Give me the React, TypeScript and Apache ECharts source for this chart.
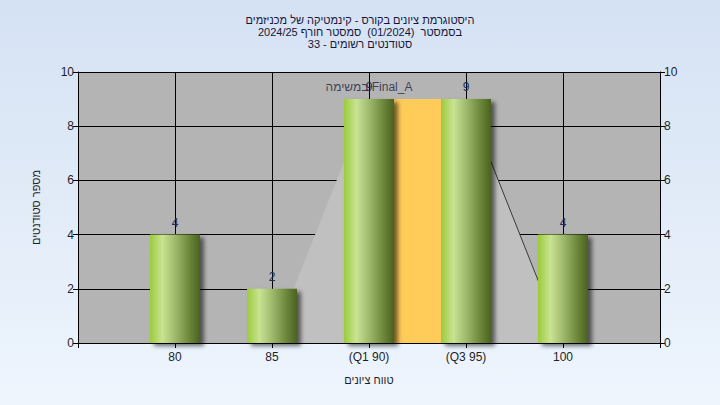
import React, { useEffect, useRef } from "react";
import * as echarts from "echarts";

const titleLines = [
  "היסטוגרמת ציונים בקורס - קינמטיקה של מכניזמים",
  "בסמסטר  (01/2024)  סמסטר חורף 2024/25",
  "סטודנטים רשומים - 33",
];
const scores = [80, 85, 90, 95, 100];
const counts = [4, 2, 9, 9, 4];
const scoreLabels: Record<number, string> = {
  80: "80",
  85: "85",
  90: "(Q1 90)",
  95: "(Q3 95)",
  100: "100",
};
const curveX = [85, 90, 95, 100];
const curveY = [0, 9, 9, 0];
const edgeX = [95, 100];
const edgeY = [9, 0];
const iqrRange = [90, 95];
const iqrTop = 9;
const taskLabel = "במשימה Final_A";
const xAxisName = "טווח ציונים";
const yAxisName = "מספר סטודנטים";

const FONT = "'Liberation Sans', Arial, sans-serif";
const TXT = "#1e1e28";

export default function App() {
  const ref = useRef<HTMLDivElement>(null);
  useEffect(() => {
    if (!ref.current) return;
    const chart = echarts.init(ref.current, null, { renderer: "svg" });
    const barGradient = new echarts.graphic.LinearGradient(0, 0, 1, 0, [
      { offset: 0, color: "#9ccb3b" },
      { offset: 0.25, color: "#c9e393" },
      { offset: 0.5, color: "#9fba6c" },
      { offset: 0.8, color: "#6a8539" },
      { offset: 1, color: "#4a6221" },
    ]);
    const yAxisCommon = {
      type: "value" as const,
      min: 0,
      max: 10,
      interval: 2,
      axisLine: { show: true, lineStyle: { color: "#000", width: 1 } },
      axisTick: { show: true, length: 5, lineStyle: { color: "#000" } },
      axisLabel: { color: TXT, fontSize: 12, fontFamily: FONT, margin: 4 },
    };
    chart.setOption({
      animation: false,
      textStyle: { fontFamily: FONT },
      title: {
        text: titleLines.join("\n"),
        left: "center",
        top: 9,
        textStyle: {
          fontSize: 11,
          lineHeight: 12,
          fontWeight: "normal",
          color: "#15153a",
          fontFamily: FONT,
        },
      },
      grid: {
        left: 78,
        right: 60,
        top: 72,
        bottom: 62,
        show: true,
        backgroundColor: "#b4b4b4",
        borderWidth: 0,
      },
      xAxis: {
        type: "value",
        min: 75,
        max: 105,
        interval: 5,
        name: xAxisName,
        nameLocation: "middle",
        nameGap: 31,
        nameTextStyle: { color: TXT, fontSize: 11, fontFamily: FONT },
        axisLine: { show: true, onZero: false, lineStyle: { color: "#000" } },
        axisTick: { show: true, length: 5, lineStyle: { color: "#000" } },
        axisLabel: {
          color: TXT,
          fontSize: 12,
          fontFamily: FONT,
          margin: 8,
          formatter: (v: number) => scoreLabels[v] ?? "",
        },
        splitLine: { show: true, lineStyle: { color: "#000", width: 1 } },
      },
      yAxis: [
        {
          ...yAxisCommon,
          position: "left",
          name: yAxisName,
          nameLocation: "middle",
          nameGap: 37,
          nameTextStyle: { color: TXT, fontSize: 11, fontFamily: FONT },
          splitLine: { show: true, lineStyle: { color: "#000", width: 1 } },
        },
        {
          ...yAxisCommon,
          position: "right",
          splitLine: { show: false },
        },
      ],
      series: [
        {
          type: "line",
          z: 1,
          data: curveX.map((x, i) => [x, curveY[i]]),
          symbol: "none",
          lineStyle: { width: 0 },
          areaStyle: { color: "#c0c0c0", opacity: 1 },
          silent: true,
        },
        {
          type: "line",
          z: 1.2,
          data: edgeX.map((x, i) => [x, edgeY[i]]),
          symbol: "none",
          lineStyle: { width: 1, color: "#3a3a3a" },
          silent: true,
        },
        {
          type: "bar",
          z: 3,
          barWidth: 50,
          data: scores.map((s, i) => [s, counts[i]]),
          itemStyle: {
            color: barGradient,
            shadowColor: "rgba(0,0,0,0.55)",
            shadowBlur: 4,
            shadowOffsetX: 4,
            shadowOffsetY: 3,
          },
          label: {
            show: true,
            position: "top",
            distance: 6,
            color: "#1b2d55",
            fontSize: 12,
            fontFamily: FONT,
            formatter: (p: any) => String(p.value[1]),
          },
          markArea: {
            z: 1.5,
            silent: true,
            itemStyle: { color: "#ffcc5a", opacity: 1 },
            label: { show: false },
            data: [
              [
                { xAxis: iqrRange[0], yAxis: 0 },
                { xAxis: iqrRange[1], yAxis: iqrTop },
              ],
            ],
          },
        },
        {
          type: "scatter",
          z: 4,
          symbolSize: 0,
          data: [[iqrRange[0], iqrTop]],
          label: {
            show: true,
            position: "top",
            distance: 6,
            color: "#1e1e3c",
            fontSize: 12,
            fontFamily: FONT,
            formatter: () => taskLabel,
          },
          silent: true,
        },
      ],
    });
    return () => chart.dispose();
  }, []);
  return (
    <div
      style={{
        position: "fixed",
        left: 0,
        top: 0,
        width: 720,
        height: 405,
        background: "linear-gradient(to bottom, #d5e2f3, #eef5fd)",
      }}
    >
      <div ref={ref} style={{ width: 720, height: 405 }} />
    </div>
  );
}
